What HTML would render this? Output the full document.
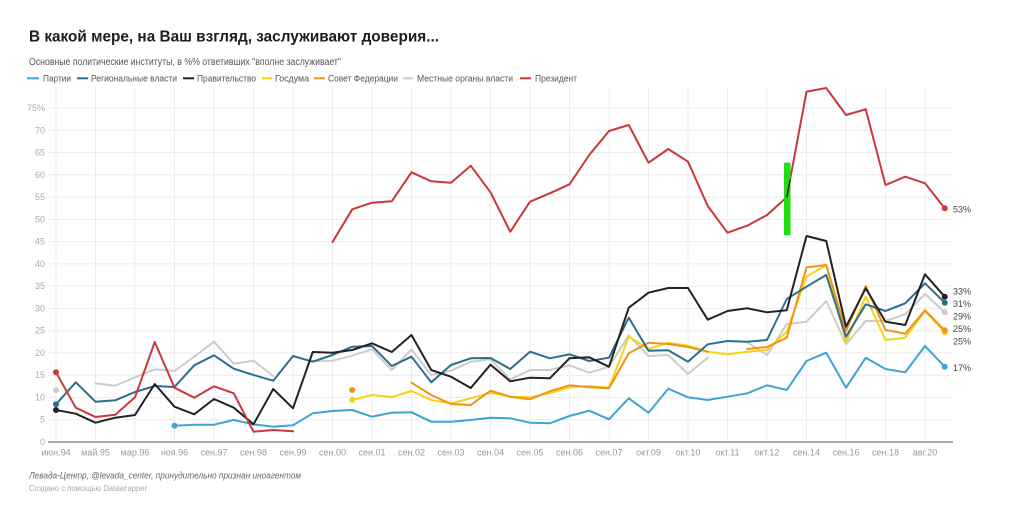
<!DOCTYPE html>
<html>
<head>
<meta charset="utf-8">
<style>
  html,body{margin:0;padding:0;background:#fff;}
  body{width:1011px;height:507px;overflow:hidden;}
  svg{display:block;}
  text{font-family:"Liberation Sans","Noto Sans CJK SC",sans-serif;}
</style>
</head>
<body>
<svg width="1011" height="507" viewBox="0 0 1011 507" xmlns="http://www.w3.org/2000/svg">
  <rect width="1011" height="507" fill="#fff"/>

  <!-- Title / subtitle -->
  <text x="29" y="41.7" font-size="16" font-weight="bold" fill="#1d1d1d" textLength="410" lengthAdjust="spacingAndGlyphs">В какой мере, на Ваш взгляд, заслуживают доверия...</text>
  <text x="29" y="65" font-size="10" fill="#555" textLength="312" lengthAdjust="spacingAndGlyphs">Основные политические институты, в %% ответивших "вполне заслуживает"</text>

  <!-- Legend -->
  <g font-size="9" fill="#555" stroke-width="2">
    <line x1="27" y1="78.3" x2="39" y2="78.3" stroke="#3ca5d0"/>
    <text x="43" y="81.5" stroke="none" textLength="28" lengthAdjust="spacingAndGlyphs">Партии</text>
    <line x1="77" y1="78.3" x2="88" y2="78.3" stroke="#2c6e8e"/>
    <text x="91" y="81.5" stroke="none" textLength="86" lengthAdjust="spacingAndGlyphs">Региональные власти</text>
    <line x1="183" y1="78.3" x2="194" y2="78.3" stroke="#222"/>
    <text x="197" y="81.5" stroke="none" textLength="59" lengthAdjust="spacingAndGlyphs">Правительство</text>
    <line x1="262" y1="78.3" x2="272" y2="78.3" stroke="#f5d314"/>
    <text x="275" y="81.5" stroke="none" textLength="34" lengthAdjust="spacingAndGlyphs">Госдума</text>
    <line x1="314" y1="78.3" x2="325" y2="78.3" stroke="#f0931c"/>
    <text x="328" y="81.5" stroke="none" textLength="70" lengthAdjust="spacingAndGlyphs">Совет Федерации</text>
    <line x1="403" y1="78.3" x2="413" y2="78.3" stroke="#cccccc"/>
    <text x="417" y="81.5" stroke="none" textLength="96" lengthAdjust="spacingAndGlyphs">Местные органы власти</text>
    <line x1="520" y1="78.3" x2="531" y2="78.3" stroke="#c9383a"/>
    <text x="535" y="81.5" stroke="none" textLength="42" lengthAdjust="spacingAndGlyphs">Президент</text>
  </g>

  <!-- Vertical gridlines -->
  <g stroke="#ececec" stroke-width="1">
    <line x1="56" y1="87" x2="56" y2="442"/>
    <line x1="95.5" y1="87" x2="95.5" y2="442"/>
    <line x1="135" y1="87" x2="135" y2="442"/>
    <line x1="174.5" y1="87" x2="174.5" y2="442"/>
    <line x1="214" y1="87" x2="214" y2="442"/>
    <line x1="253.5" y1="87" x2="253.5" y2="442"/>
    <line x1="293" y1="87" x2="293" y2="442"/>
    <line x1="332.5" y1="87" x2="332.5" y2="442"/>
    <line x1="372" y1="87" x2="372" y2="442"/>
    <line x1="411.5" y1="87" x2="411.5" y2="442"/>
    <line x1="451" y1="87" x2="451" y2="442"/>
    <line x1="490.5" y1="87" x2="490.5" y2="442"/>
    <line x1="530" y1="87" x2="530" y2="442"/>
    <line x1="569.5" y1="87" x2="569.5" y2="442"/>
    <line x1="609" y1="87" x2="609" y2="442"/>
    <line x1="648.5" y1="87" x2="648.5" y2="442"/>
    <line x1="688" y1="87" x2="688" y2="442"/>
    <line x1="727.5" y1="87" x2="727.5" y2="442"/>
    <line x1="767" y1="87" x2="767" y2="442"/>
    <line x1="806.5" y1="87" x2="806.5" y2="442"/>
    <line x1="846" y1="87" x2="846" y2="442"/>
    <line x1="885.5" y1="87" x2="885.5" y2="442"/>
    <line x1="925" y1="87" x2="925" y2="442"/>
  </g>

  <!-- Horizontal gridlines -->
  <g stroke="#ececec" stroke-width="1">
    <line x1="48" y1="108" x2="952" y2="108"/>
    <line x1="48" y1="130.3" x2="952" y2="130.3"/>
    <line x1="48" y1="152.6" x2="952" y2="152.6"/>
    <line x1="48" y1="174.8" x2="952" y2="174.8"/>
    <line x1="48" y1="197.1" x2="952" y2="197.1"/>
    <line x1="48" y1="219.4" x2="952" y2="219.4"/>
    <line x1="48" y1="241.6" x2="952" y2="241.6"/>
    <line x1="48" y1="263.9" x2="952" y2="263.9"/>
    <line x1="48" y1="286.1" x2="952" y2="286.1"/>
    <line x1="48" y1="308.4" x2="952" y2="308.4"/>
    <line x1="48" y1="330.7" x2="952" y2="330.7"/>
    <line x1="48" y1="352.9" x2="952" y2="352.9"/>
    <line x1="48" y1="375.2" x2="952" y2="375.2"/>
    <line x1="48" y1="397.5" x2="952" y2="397.5"/>
    <line x1="48" y1="419.7" x2="952" y2="419.7"/>
  </g>

  <!-- Y labels -->
  <g font-size="9" fill="#aaa" text-anchor="end">
    <text x="45" y="111">75%</text>
    <text x="45" y="133.3">70</text>
    <text x="45" y="155.6">65</text>
    <text x="45" y="177.8">60</text>
    <text x="45" y="200.1">55</text>
    <text x="45" y="222.4">50</text>
    <text x="45" y="244.6">45</text>
    <text x="45" y="266.9">40</text>
    <text x="45" y="289.1">35</text>
    <text x="45" y="311.4">30</text>
    <text x="45" y="333.7">25</text>
    <text x="45" y="355.9">20</text>
    <text x="45" y="378.2">15</text>
    <text x="45" y="400.5">10</text>
    <text x="45" y="422.7">5</text>
    <text x="45" y="445">0</text>
  </g>

  <!-- Baseline -->
  <line x1="48" y1="442" x2="953" y2="442" stroke="#555" stroke-width="1"/>

  <!-- X labels -->
  <g font-size="9" fill="#999" text-anchor="middle">
    <text x="56" y="455.5">июн.94</text>
    <text x="95.5" y="455.5">май.95</text>
    <text x="135" y="455.5">мар.96</text>
    <text x="174.5" y="455.5">ноя.96</text>
    <text x="214" y="455.5">сен.97</text>
    <text x="253.5" y="455.5">сен.98</text>
    <text x="293" y="455.5">сен.99</text>
    <text x="332.5" y="455.5">сен.00</text>
    <text x="372" y="455.5">сен.01</text>
    <text x="411.5" y="455.5">сен.02</text>
    <text x="451" y="455.5">сен.03</text>
    <text x="490.5" y="455.5">сен.04</text>
    <text x="530" y="455.5">сен.05</text>
    <text x="569.5" y="455.5">сен.06</text>
    <text x="609" y="455.5">сен.07</text>
    <text x="648.5" y="455.5">окт.09</text>
    <text x="688" y="455.5">окт.10</text>
    <text x="727.5" y="455.5">окт.11</text>
    <text x="767" y="455.5">окт.12</text>
    <text x="806.5" y="455.5">сен.14</text>
    <text x="846" y="455.5">сен.16</text>
    <text x="885.5" y="455.5">сен.18</text>
    <text x="925" y="455.5">авг.20</text>
  </g>

  <!-- Series -->
  <g fill="none" stroke-width="2" stroke-linejoin="round" stroke-linecap="round">
    <!-- Местные органы власти (grey) -->
    <polyline stroke="#cccccc" points="95.5,383.3 115.25,385.7 135,377.3 154.75,369.3 174.5,371 194.25,356.7 214,341.7 233.75,363.7 253.5,360.7 273.25,376"/>
    <polyline stroke="#cccccc" points="312.75,361 332.5,360.7 352.25,355.7 372,349.3 391.75,370 411.5,349.3 431.25,375 451,370.7 470.75,361.7 490.5,359.3 510.25,379.3 530,370 549.75,370 569.5,365.3 589.25,372.7 609,366.7 628.75,335.3 648.5,356 668.25,355 688,374 707.75,357.7"/>
    <polyline stroke="#cccccc" points="747.25,342.3 767,355 786.75,324 806.5,321.7 826.25,301 846,344.3 865.75,321 885.5,321 905.25,314.3 925,294 944.75,312.3"/>

    <!-- Партии (light blue) -->
    <polyline stroke="#3ca5d0" points="174.5,425.7 194.25,424.7 214,424.7 233.75,420 253.5,424.3 273.25,426.7 293,425.3 312.75,413.3 332.5,411 352.25,410 372,416.7 391.75,412.7 411.5,412.3 431.25,421.7 451,421.7 470.75,420 490.5,417.7 510.25,418.3 530,422.7 549.75,423.3 569.5,416 589.25,410.7 609,419.3 628.75,398.3 648.5,412.7 668.25,388.7 688,397.3 707.75,400 727.5,396.7 747.25,393.3 767,385.3 786.75,390 806.5,361 826.25,352.7 846,387.7 865.75,357.7 885.5,369 905.25,372.3 925,346 944.75,366.7"/>

    <!-- Госдума (yellow) -->
    <polyline stroke="#f5d314" points="352.25,400 372,395 391.75,397 411.5,391 431.25,400 451,403.3 470.75,398.3 490.5,392.7 510.25,396.7 530,397.3 549.75,393.3 569.5,387.3 589.25,386 609,387.7 628.75,336.7 648.5,349 668.25,342.7 688,345.7 707.75,351.7 727.5,354.3 747.25,351.7 767,350 786.75,331.7 806.5,276.7 826.25,265 846,342.3 865.75,296.7 885.5,340 905.25,337.7 925,311 944.75,332.3"/>

    <!-- Совет Федерации (orange) -->
    <polyline stroke="#f0931c" points="411.5,382.7 431.25,395 451,404 470.75,405 490.5,390.7 510.25,396.7 530,399.3 549.75,391.3 569.5,385.3 589.25,387.3 609,388.3 628.75,353.3 648.5,342.7 668.25,344 688,347 707.75,351.7"/>
    <polyline stroke="#f0931c" points="747.25,349 767,347 786.75,337.7 806.5,267.3 826.25,265 846,331 865.75,286 885.5,330 905.25,333.7 925,310.3 944.75,330.3"/>

    <!-- Региональные власти (teal) -->
    <polyline stroke="#2c6e8e" points="56,404.3 75.75,382.3 95.5,401.7 115.25,400.3 135,392 154.75,386 174.5,387 194.25,365.3 214,355.3 233.75,368.7 253.5,375 273.25,380.7 293,356 312.75,361.7 332.5,355 352.25,346.7 372,346 391.75,366 411.5,356.7 431.25,382.3 451,365 470.75,358.3 490.5,358 510.25,369 530,351.7 549.75,358.3 569.5,354.3 589.25,361 609,357.7 628.75,317.7 648.5,350.7 668.25,350.3 688,361.7 707.75,344.3 727.5,341 747.25,341.7 767,340 786.75,299 806.5,286.7 826.25,275 846,336.7 865.75,304.3 885.5,311 905.25,303.3 925,283.3 944.75,302.7"/>

    <!-- Правительство (black) -->
    <polyline stroke="#222" points="56,410 75.75,413.7 95.5,422.7 115.25,417.7 135,415 154.75,384 174.5,406.7 194.25,414.3 214,399 233.75,407.7 253.5,424.3 273.25,389 293,408.3 312.75,352 332.5,352.7 352.25,350 372,343.3 391.75,352 411.5,335 431.25,370 451,376.7 470.75,388 490.5,364.7 510.25,381.3 530,377.7 549.75,378.3 569.5,358.3 589.25,357.3 609,366.7 628.75,307.7 648.5,292.7 668.25,288 688,288 707.75,319.7 727.5,311 747.25,308.3 767,312.3 786.75,310.3 806.5,236 826.25,241 846,326.7 865.75,288.3 885.5,321.7 905.25,325 925,274.3 944.75,296.7"/>

    <!-- Президент (red) -->
    <polyline stroke="#c9383a" points="56,372.3 75.75,407.7 95.5,417 115.25,414.7 135,397.3 154.75,342 174.5,387.7 194.25,397.7 214,386.3 233.75,393.3 253.5,431.7 273.25,430 293,431.3"/>
    <polyline stroke="#c9383a" points="332.5,242 352.25,209.3 372,202.7 391.75,201.3 411.5,172.3 431.25,181.3 451,182.7 470.75,165.7 490.5,192.3 510.25,231.7 530,201.7 549.75,193.3 569.5,184.3 589.25,155 609,131 628.75,125 648.5,162.7 668.25,149 688,161.7 707.75,206 727.5,232.7 747.25,225.7 767,215 786.75,197.3 806.5,91.7 826.25,88 846,115 865.75,109.3 885.5,185 905.25,176.7 925,183.3 944.75,208.3"/>
  </g>

  <!-- Green marker bar -->
  <rect x="784" y="162.7" width="6.5" height="72.5" fill="#22dd11"/>
  <line x1="786.75" y1="197.3" x2="790.3" y2="179.5" stroke="#222" stroke-width="1.5"/>

  <!-- Dots -->
  <g>
    <circle cx="56" cy="390.3" r="3" fill="#cccccc"/>
    <circle cx="56" cy="372.3" r="3" fill="#c9383a"/>
    <circle cx="56" cy="404.3" r="3" fill="#2c6e8e"/>
    <circle cx="56" cy="410" r="3" fill="#222"/>
    <circle cx="174.5" cy="425.7" r="3" fill="#3ca5d0"/>
    <circle cx="352.25" cy="390" r="3" fill="#f0931c"/>
    <circle cx="352.25" cy="400" r="3" fill="#f5d314"/>

    <circle cx="944.75" cy="208.3" r="3" fill="#c9383a"/>
    <circle cx="944.75" cy="312.3" r="3" fill="#cccccc"/>
    <circle cx="944.75" cy="366.7" r="3" fill="#3ca5d0"/>
    <circle cx="944.75" cy="332.3" r="3" fill="#f5d314"/>
    <circle cx="944.75" cy="330.3" r="3" fill="#f0931c"/>
    <circle cx="944.75" cy="302.7" r="3" fill="#2c6e8e"/>
    <circle cx="944.75" cy="296.7" r="3" fill="#222"/>
  </g>

  <!-- Right value labels -->
  <g font-size="9" fill="#444">
    <text x="953" y="212.5">53%</text>
    <text x="953" y="294.3">33%</text>
    <text x="953" y="307">31%</text>
    <text x="953" y="319.5">29%</text>
    <text x="953" y="332">25%</text>
    <text x="953" y="344.5">25%</text>
    <text x="953" y="371">17%</text>
  </g>

  <!-- Footer -->
  <text x="29" y="478.5" font-size="9" font-style="italic" fill="#666" textLength="272" lengthAdjust="spacingAndGlyphs">Левада-Центр, @levada_center, принудительно признан иноагентом</text>
  <text x="29" y="491" font-size="8" fill="#aaa" textLength="118" lengthAdjust="spacingAndGlyphs">Создано с помощью Datawrapper</text>
</svg>
</body>
</html>
